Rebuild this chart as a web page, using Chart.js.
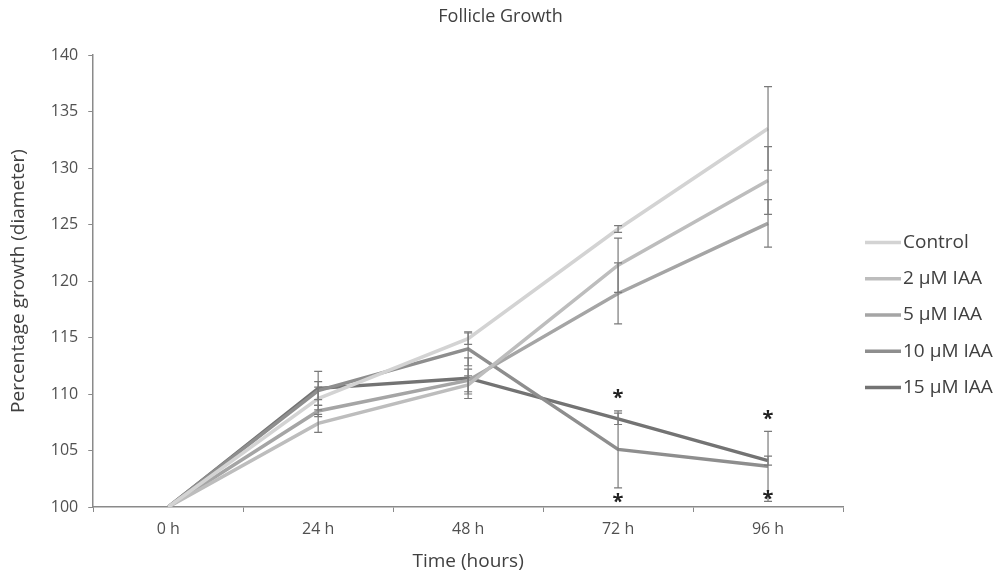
<!DOCTYPE html>
<html>
<head>
<meta charset="utf-8">
<script src="https://cdn.jsdelivr.net/npm/chart.js@4/dist/chart.umd.min.js"></script>
<style>
  html, body { margin: 0; padding: 0; background: #fff; }
  #wrap { width: 1001px; height: 574px; }
</style>
</head>
<body>
<div id="wrap"><canvas id="myChart"></canvas></div>
<script>
const labels = ["0 h", "24 h", "48 h", "72 h", "96 h"];
const seriesNames = ["Control", "2 \u00b5M IAA", "5 \u00b5M IAA", "10 \u00b5M IAA", "15 \u00b5M IAA"];

const control = [100, 109.6, 114.9, 124.6, 133.5];
const iaa2 = [100, 107.4, 110.8, 121.4, 128.9];
const iaa5 = [100, 108.5, 111.2, 118.9, 125.1];
const iaa10 = [100, 110.3, 114.0, 105.1, 103.6];
const iaa15 = [100, 110.5, 111.4, 107.8, 104.1];

const errControl = [0, 1.0, 0.5, 0.3, 3.7];
const err2 = [0, 0.8, 0.8, 2.4, 3.0];
const err5 = [0, 0.5, 1.0, 2.7, 2.1];
const err10 = [0, 0.8, 1.5, 3.4, 3.1];
const err15 = [0, 1.5, 1.8, 0.5, 0.4];

// significance stars (value where the * sits)
const starsAbove = [null, null, null, 110.0, 108.1];
const starsBelow = [null, null, null, 100.8, 101.0];

const colors = ["#d3d3d3", "#bdbdbd", "#a5a5a5", "#8e8e8e", "#737373"];

const allValues = [control, iaa2, iaa5, iaa10, iaa15];
const allErrors = [errControl, err2, err5, err10, err15];

const font = "'Open Sans', sans-serif";

const errorBars = {
  id: "errorBars",
  afterDatasetsDraw(chart) {
    const { ctx, scales: { x, y } } = chart;
    ctx.save();
    ctx.strokeStyle = "#7a7a7a";
    ctx.lineWidth = 1.2;
    allValues.forEach((vals, d) => {
      vals.forEach((v, i) => {
        const e = allErrors[d][i];
        if (!e) return;
        const px = x.getPixelForValue(i);
        const top = y.getPixelForValue(v + e);
        const bot = y.getPixelForValue(v - e);
        ctx.beginPath();
        ctx.moveTo(px, top); ctx.lineTo(px, bot);
        ctx.moveTo(px - 4, top); ctx.lineTo(px + 4, top);
        ctx.moveTo(px - 4, bot); ctx.lineTo(px + 4, bot);
        ctx.stroke();
      });
    });
    ctx.fillStyle = "#222";
    ctx.font = "bold 20px " + font;
    ctx.textAlign = "center";
    ctx.textBaseline = "middle";
    [starsAbove, starsBelow].forEach(arr => {
      arr.forEach((v, i) => {
        if (v == null) return;
        ctx.fillText("*", x.getPixelForValue(i), y.getPixelForValue(v) + 4);
      });
    });
    ctx.restore();
  }
};

// excel-like legend and a title centred on the whole canvas
const sideLegend = {
  id: "sideLegend",
  afterDraw(chart) {
    const { ctx, chartArea, width } = chart;
    ctx.save();
    ctx.font = "18px " + font;
    ctx.fillStyle = "#404040";
    ctx.textAlign = "center";
    ctx.textBaseline = "middle";
    ctx.fillText("Follicle Growth", width / 2, 17);

    const x0 = chartArea.right + 22;
    const yMid = (chartArea.top + chartArea.bottom) / 2 + 34;
    const gap = 36.3;
    const n = chart.data.datasets.length;
    ctx.font = "19px " + font;
    ctx.textAlign = "left";
    chart.data.datasets.forEach((ds, i) => {
      const yy = yMid + (i - (n - 1) / 2) * gap;
      ctx.strokeStyle = ds.borderColor;
      ctx.lineWidth = 3.5;
      ctx.beginPath();
      ctx.moveTo(x0, yy);
      ctx.lineTo(x0 + 36, yy);
      ctx.stroke();
      ctx.fillText(ds.label, x0 + 38, yy);
    });
    ctx.restore();
  }
};

const ctx = document.getElementById("myChart").getContext("2d");
new Chart(ctx, {
  type: "line",
  data: {
    labels: labels,
    datasets: allValues.map((vals, d) => ({
      label: seriesNames[d],
      data: vals,
      borderColor: colors[d],
      backgroundColor: colors[d],
      borderWidth: 3.5,
      pointRadius: 0,
      tension: 0,
    })),
  },
  options: {
    responsive: true,
    maintainAspectRatio: false,
    animation: false,
    layout: { padding: { left: 7, right: 158, top: 55, bottom: 1 } },
    plugins: {
      title: { display: false },
      legend: { display: false },
      tooltip: { enabled: false },
    },
    scales: {
      x: {
        offset: true,
        grid: { drawOnChartArea: false, drawTicks: true, tickLength: 5, color: "#8a8a8a", offset: true },
        border: { color: "#8a8a8a", width: 1.5 },
        ticks: { color: "#505050", font: { family: font, size: 16 }, padding: 8 },
        title: {
          display: true,
          text: "Time (hours)",
          color: "#404040",
          font: { family: font, size: 19 },
          padding: { top: 3, bottom: 0 },
        },
      },
      y: {
        min: 100,
        max: 140,
        grid: { drawOnChartArea: false, drawTicks: true, tickLength: 5, color: "#8a8a8a" },
        border: { color: "#8a8a8a", width: 1.5 },
        ticks: { stepSize: 5, color: "#505050", font: { family: font, size: 16 }, padding: 10 },
        title: {
          display: true,
          text: "Percentage growth (diameter)",
          color: "#404040",
          font: { family: font, size: 19 },
          padding: { top: 0, bottom: 11 },
        },
      },
    },
  },
  plugins: [errorBars, sideLegend],
});
</script>
</body>
</html>
